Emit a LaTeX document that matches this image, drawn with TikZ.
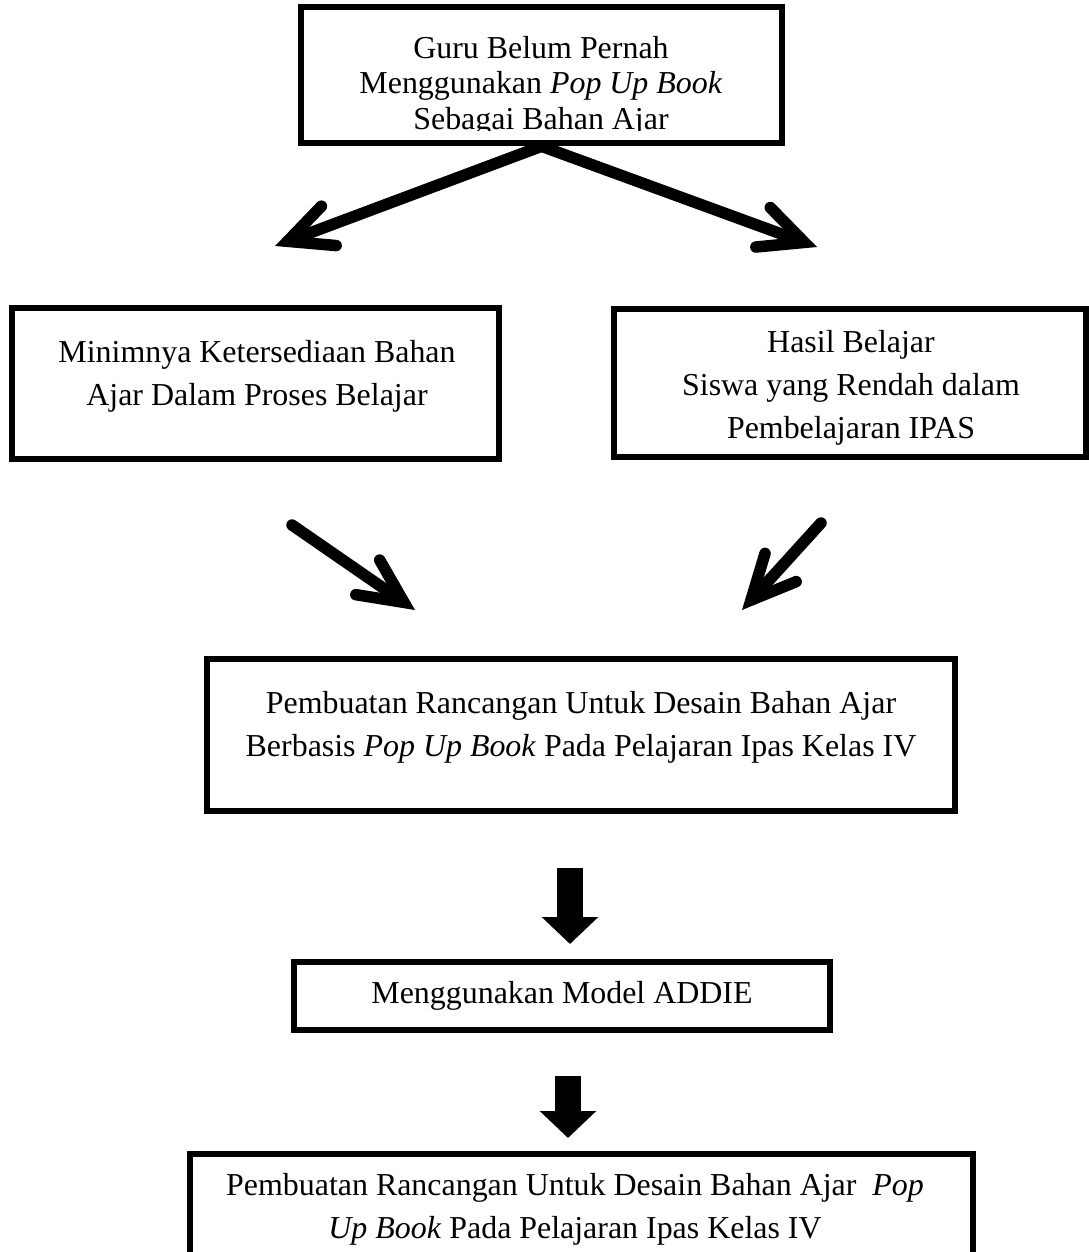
\documentclass[tikz,border=0pt]{standalone}
\usepackage{fontspec}
\setmainfont{Liberation Serif}
\usetikzlibrary{arrows.meta, positioning, calc}

\tikzset{
  kotak/.style={draw, line width=4.6pt, inner sep=0pt},
  teks/.style={align=center, inner sep=0pt, font=\fontsize{22.7}{30.6}\selectfont},
  panah/.style={line width=8.2pt, line cap=round, -{Straight Barb[length=1.1cm, width=1.05cm, line cap=round, line join=miter]}},
  panahblok/.style={line width=18.5pt, -{Triangle[length=0.675cm, width=1.375cm]}}
}

\begin{document}
\begin{tikzpicture}[x=0.025cm, y=-0.025cm]
\useasboundingbox (0,0) rectangle (1089,1252);
% Kotak atas
\node[kotak, minimum width=12.025cm, minimum height=3.4cm] (atas) at (541.5,75) {};
\begin{scope}
\clip (301,7) rectangle (782,130);
\node[teks, font=\fontsize{22.7}{25.3}\selectfont] at (541,86) {Guru Belum Pernah\\Menggunakan \textit{Pop Up Book}\\Sebagai Bahan Ajar};
\end{scope}
% Dua masalah
\node[kotak, minimum width=12.175cm, minimum height=3.775cm] (kiri) at (255.5,383.5) {};
\node[teks] at (257,376) {Minimnya Ketersediaan Bahan\\Ajar Dalam Proses Belajar};
\node[kotak, minimum width=11.8cm, minimum height=3.7cm] (kanan) at (850,383) {};
\node[teks] at (851,388) {Hasil Belajar\\Siswa yang Rendah dalam\\Pembelajaran IPAS};
% Rancangan
\node[kotak, minimum width=18.7cm, minimum height=3.8cm] (tengah) at (581,735) {};
\node[teks] at (581,727) {Pembuatan Rancangan Untuk Desain Bahan Ajar\\Berbasis \textit{Pop Up Book} Pada Pelajaran Ipas Kelas IV};
\node[kotak, teks, minimum width=13.4cm, minimum height=1.7cm] (addie) at (562,996) {Menggunakan Model ADDIE};
\node[kotak, minimum width=19.575cm, minimum height=3.65cm] (bawah) at (581.5,1227) {};
\node[teks] at (575,1209) {Pembuatan Rancangan Untuk Desain Bahan Ajar~ \textit{Pop}\\\textit{Up Book} Pada Pelajaran Ipas Kelas IV};

% Panah bercabang
\coordinate (ujungkiri) at (275,246);
\coordinate (ujungkanan) at (817,247);
\draw[panah] (atas.south) -- (ujungkiri);
\draw[panah] (atas.south) -- (ujungkanan);
% Panah menuju rancangan
\coordinate (kiriawal) at (292,525);
\coordinate (kiriakhir) at (415,610);
\coordinate (kananawal) at (821,523);
\coordinate (kananakhir) at (742,610);
\draw[panah] (kiriawal) -- (kiriakhir);
\draw[panah] (kananawal) -- (kananakhir);
% Panah blok
\coordinate (blokatas1) at (570,868);
\coordinate (blokbawah1) at (570,944);
\coordinate (blokatas2) at (568,1076);
\coordinate (blokbawah2) at (568,1138);
\draw[panahblok] (blokatas1) -- (blokbawah1);
\draw[panahblok] (blokatas2) -- (blokbawah2);
\end{tikzpicture}
\end{document}
